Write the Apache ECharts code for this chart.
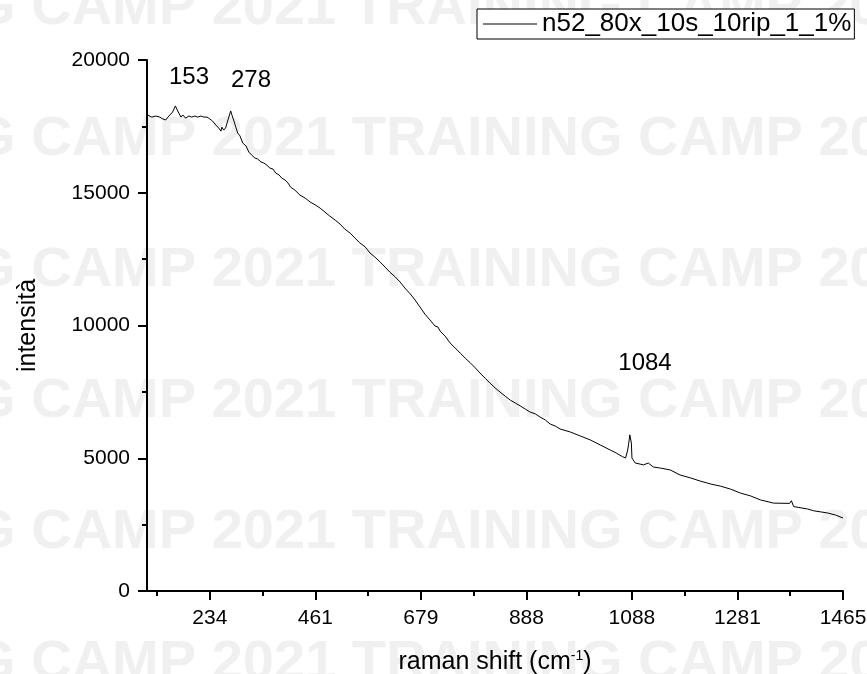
<!DOCTYPE html>
<html>
<head>
<meta charset="utf-8">
<script src="https://cdn.jsdelivr.net/npm/echarts@6/dist/echarts.min.js"></script>
<style>
html,body{margin:0;padding:0;background:#fff;}
#chart{width:867px;height:674px;}
</style>
</head>
<body>
<div id="chart"></div>
<script>
// ---- data ----
const seriesName = 'n52_80x_10s_10rip_1_1%';
const xTickLabels = [234, 461, 679, 888, 1088, 1281, 1465];
const yTicks = [0, 5000, 10000, 15000, 20000];
const peakLabels = ['153', '278', '1084'];

const ramanShift = [
  100,109,118,126,133,139,144,148,154,160,165,172,176,182,189,195,202,208,215,221,228,
  234,240,247,253,258,260,264,268,273,279,281,286,290,294,299,305,312,318,324,331,337,344,350,357,363,370,376,383,389,396,402,408,417,428,439,450,461,
  471,481,491,502,512,522,533,543,553,564,574,584,595,605,615,626,636,646,657,667,677,
  687,697,707,713,717,727,737,747,757,767,777,787,796,806,816,826,836,846,856,866,876,886,
  895,905,914,924,933,943,952,971,990,1009,1028,1047,1058,1070,1076,1080,1082,1084,1087,
  1088,1094,1103,1109,1118,1127,1140,1158,1176,1195,1213,1232,1250,1268,
  1286,1304,1321,1344,1372,1375,1379,1403,1414,1438,1452,1465
];
const intensity = [
  17930,17850,17890,17850,17780,17740,17850,17850,18040,18270,18080,17850,17930,17810,17890,17850,17890,17850,17890,17850,17850,
  17780,17700,17550,17440,17320,17470,17360,17440,17740,18080,17960,17700,17470,17250,17140,16870,16760,16530,16420,16310,16270,16160,16120,16040,15930,15890,15740,15670,15550,15480,15370,15210,15100,14910,14800,14650,14540,
  14420,14270,14120,13970,13820,13630,13480,13290,13110,12960,12730,12580,12390,12200,12010,11830,11640,11410,11190,10960,10700,
  10430,10210,9980,9940,9790,9600,9340,9150,8960,8770,8590,8400,8210,8020,7830,7650,7490,7340,7190,7080,6970,6850,
  6740,6670,6550,6440,6290,6210,6100,5990,5840,5690,5500,5310,5200,5060,5010,5310,5570,5880,5570,
  5010,4820,4780,4750,4820,4670,4630,4560,4370,4260,4140,4030,3950,3840,
  3690,3580,3430,3310,3300,3400,3180,3090,3020,2940,2860,2750
];

// The original x axis is evenly spaced in tick index (spectrometer scale);
// map a Raman shift onto that tick-index scale piecewise-linearly.
function shiftToPos(s) {
  const t = xTickLabels;
  if (s <= t[0]) return (s - t[0]) / (t[1] - t[0]);
  for (let k = 0; k < t.length - 1; k++) {
    if (s <= t[k + 1]) return k + (s - t[k]) / (t[k + 1] - t[k]);
  }
  const n = t.length - 1;
  return n + (s - t[n]) / (t[n] - t[n - 1]);
}

const lineData = ramanShift.map((s, i) => [shiftToPos(s), intensity[i]]);
const majorX = xTickLabels.map((_, i) => i);
const minorX = [-0.5].concat(xTickLabels.slice(1).map((_, i) => i + 0.5));

const FONT = '"Liberation Sans", Arial, sans-serif';
const chart = echarts.init(document.getElementById('chart'), null, {renderer: 'canvas'});

// watermark rows
const wmText = 'TRAINING CAMP 2021 TRAINING CAMP 2021 TRAINING CAMP 2021';
const wmRows = [9, 140, 271, 402, 533, 664];
const graphics = wmRows.map(y => ({
  type: 'text', z: -100, silent: true,
  style: { x: -255, y: y, text: wmText, font: 'bold 56px ' + FONT, fill: '#f0f0f0', textVerticalAlign: 'middle' }
}));
const peakPos = [[189, 77], [251, 80], [645, 363]];
peakLabels.forEach((t, i) => graphics.push({
  type: 'text', z: 50,
  style: { x: peakPos[i][0], y: peakPos[i][1], text: t, font: '24px ' + FONT, fill: '#000', textAlign: 'center', textVerticalAlign: 'middle' }
}));

chart.setOption({
  animation: false,
  backgroundColor: '#fff',
  graphic: graphics,
  grid: { left: 147, right: 24, top: 60, bottom: 83, containLabel: false, outerBoundsMode: 'none' },
  legend: {
    data: [seriesName],
    left: 477, top: 9,
    padding: [2, 3, 2, 6],
    backgroundColor: '#fff',
    borderColor: '#000', borderWidth: 1,
    itemWidth: 54, itemHeight: 1,
    icon: 'rect',
    textStyle: { fontFamily: FONT, fontSize: 26, color: '#000' }
  },
  xAxis: [{
    type: 'value', min: -0.595, max: xTickLabels.length - 1,
    name: 'raman shift (cm{sup|-1})', nameLocation: 'middle', nameGap: 58,
    nameTextStyle: {
      fontFamily: FONT, fontSize: 25, color: '#000', verticalAlign: 'top',
      rich: { sup: { fontFamily: FONT, fontSize: 14, color: '#000', verticalAlign: 'top', padding: [0, 0, 13, 0] } }
    },
    axisLine: { show: true, onZero: false, lineStyle: { color: '#000', width: 2 } },
    axisTick: { show: true, length: 9, customValues: majorX, lineStyle: { color: '#000', width: 2 } },
    axisLabel: { show: true, customValues: majorX, margin: 17, fontFamily: FONT, fontSize: 21, color: '#000',
      formatter: v => String(xTickLabels[Math.round(v)]) },
    splitLine: { show: false }
  }, {
    type: 'value', min: -0.595, max: xTickLabels.length - 1, position: 'bottom',
    axisLine: { show: false },
    axisTick: { show: true, length: 5, customValues: minorX, lineStyle: { color: '#000', width: 2 } },
    axisLabel: { show: false },
    splitLine: { show: false }
  }],
  yAxis: {
    type: 'value', min: yTicks[0], max: yTicks[yTicks.length - 1], interval: yTicks[1] - yTicks[0],
    name: 'intensità', nameLocation: 'middle', nameGap: 106, nameRotate: 90,
    nameTextStyle: { fontFamily: FONT, fontSize: 25, color: '#000' },
    axisLine: { show: true, onZero: false, lineStyle: { color: '#000', width: 2 } },
    axisTick: { show: true, length: 9, lineStyle: { color: '#000', width: 2 } },
    minorTick: { show: true, splitNumber: 2, length: 5, lineStyle: { color: '#000', width: 2 } },
    axisLabel: { margin: 17, fontFamily: FONT, fontSize: 21, color: '#000', formatter: v => String(v) },
    splitLine: { show: false }
  },
  series: [{
    name: seriesName, type: 'line', xAxisIndex: 0, data: lineData,
    showSymbol: false, symbol: 'none', z: 10,
    lineStyle: { color: '#000', width: 1 }, itemStyle: { color: '#000' }
  }]
});
</script>
</body>
</html>
